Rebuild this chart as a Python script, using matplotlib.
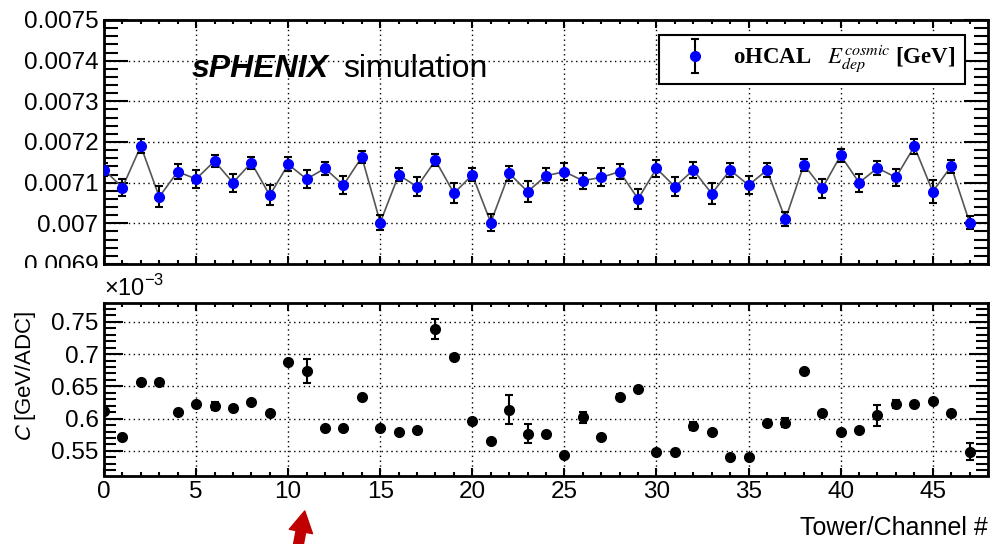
import matplotlib.pyplot as plt
import numpy as np
from matplotlib.ticker import MultipleLocator, FuncFormatter
from matplotlib.patches import Rectangle
from matplotlib.legend_handler import HandlerErrorbar

# channel numbers
channels = np.arange(48)

# oHCAL E_dep (cosmic) per tower [GeV]
e_dep = [0.007132, 0.007088, 0.007190, 0.007065, 0.007127, 0.007109, 0.007153, 0.007100,
         0.007149, 0.007069, 0.007145, 0.007109, 0.007135, 0.007094, 0.007163, 0.007002,
         0.007119, 0.007090, 0.007155, 0.007074, 0.007119, 0.007002, 0.007123, 0.007078,
         0.007117, 0.007127, 0.007105, 0.007113, 0.007127, 0.007060, 0.007135, 0.007090,
         0.007131, 0.007073, 0.007131, 0.007094, 0.007131, 0.007010, 0.007144, 0.007086,
         0.007167, 0.007100, 0.007136, 0.007113, 0.007189, 0.007078, 0.007140, 0.007002]
e_dep_err = np.array([1.6, 2.2, 1.8, 2.6, 1.8, 2.2, 1.5, 2.2, 1.5, 2.5,
                      1.7, 2.2, 1.6, 2.2, 1.4, 1.9, 1.6, 2.3, 1.5, 2.5,
                      1.6, 2.1, 1.8, 2.6, 1.9, 2.1, 2.0, 2.2, 1.8, 2.5,
                      2.0, 2.3, 2.0, 2.5, 1.8, 2.2, 1.8, 1.7, 1.5, 2.4,
                      1.5, 2.2, 1.8, 2.0, 1.8, 2.8, 1.5, 1.7]) * 1e-5

# calibration constant C [x1e-3 GeV/ADC]
calib = [0.612, 0.572, 0.657, 0.656, 0.611, 0.622, 0.619, 0.617, 0.626, 0.608,
         0.688, 0.674, 0.585, 0.585, 0.634, 0.585, 0.580, 0.583, 0.739, 0.696,
         0.597, 0.566, 0.614, 0.577, 0.577, 0.544, 0.602, 0.572, 0.634, 0.646,
         0.549, 0.549, 0.589, 0.580, 0.540, 0.540, 0.594, 0.594, 0.674, 0.608,
         0.580, 0.583, 0.605, 0.623, 0.623, 0.628, 0.608, 0.549]
calib_err = [0.002, 0.002, 0.002, 0.002, 0.002, 0.002, 0.006, 0.002, 0.002, 0.002,
             0.002, 0.019, 0.002, 0.002, 0.002, 0.002, 0.002, 0.002, 0.016, 0.002,
             0.002, 0.002, 0.023, 0.014, 0.002, 0.002, 0.008, 0.002, 0.004, 0.002,
             0.002, 0.002, 0.006, 0.002, 0.002, 0.002, 0.002, 0.007, 0.002, 0.002,
             0.002, 0.002, 0.016, 0.006, 0.002, 0.002, 0.002, 0.013]

plt.rcParams['font.family'] = ['Liberation Sans', 'DejaVu Sans']

W, H = 998, 544
fig = plt.figure(figsize=(W / 100, H / 100), dpi=100)


def box(l, t, r, b):
    return [l / W, 1 - b / H, (r - l) / W, (b - t) / H]


ax1 = fig.add_axes(box(104, 20, 988, 264))
ax2 = fig.add_axes(box(104, 303, 988, 475.5))
ax2.set_zorder(2)


def style(ax, ymaj, ymin, ylen):
    ax.set_xlim(0, 48)
    ax.xaxis.set_major_locator(MultipleLocator(5))
    ax.xaxis.set_minor_locator(MultipleLocator(1))
    ax.yaxis.set_major_locator(MultipleLocator(ymaj))
    ax.yaxis.set_minor_locator(MultipleLocator(ymin))
    ax.tick_params(which='both', direction='in', top=True, right=True, width=1.5,
                   labelsize=17.5, pad=4)
    ax.tick_params(axis='y', which='major', length=ylen)
    ax.tick_params(axis='y', which='minor', length=ylen * 0.6)
    ax.tick_params(axis='x', which='major', length=6)
    ax.tick_params(axis='x', which='minor', length=3)
    ax.grid(True, which='major', color='black', linestyle=(0, (1, 2.5)), linewidth=1)
    for s in ax.spines.values():
        s.set_linewidth(2)


# top: E_dep
style(ax1, 0.0001, 0.00002, 17)
ax1.set_ylim(0.0069, 0.0075)
ax1.yaxis.set_major_formatter(FuncFormatter(lambda v, p: f'{round(v, 7):g}'))
ax1.tick_params(labelbottom=False)
ax1.plot(channels, e_dep, color='#555555', lw=1.2, zorder=2)
eb = ax1.errorbar(channels, e_dep, yerr=e_dep_err, fmt='o', color='blue', ms=7,
                  ecolor='black', elinewidth=1.5, capsize=3, capthick=1.5, zorder=3,
                  label=r'oHCAL   $E^{cosmic}_{dep}$ [GeV]')
leg = ax1.legend(handles=[eb], loc='upper right', bbox_to_anchor=(0.974, 0.9385),
                 prop=dict(family='Liberation Serif', weight='bold', size=16.5),
                 fancybox=False, edgecolor='black', framealpha=1, borderpad=0.4,
                 handlelength=2.3, handletextpad=0.55, borderaxespad=0,
                 handler_map={type(eb): HandlerErrorbar(yerr_size=0.75)})
leg.get_frame().set_linewidth(1.5)
leg.get_texts()[0].set_math_fontfamily('stix')

ax1.text(0.0995, 0.766, 'sPHENIX', transform=ax1.transAxes, fontsize=23,
         fontweight='bold', fontstyle='italic', va='baseline')
ax1.text(0.270, 0.766, 'simulation', transform=ax1.transAxes, fontsize=23,
         va='baseline')

# bottom: calibration constant
style(ax2, 0.05, 0.01, 14)
ax2.set_ylim(0.512, 0.779)
ax2.yaxis.set_major_formatter(FuncFormatter(lambda v, p: f'{round(v, 4):g}'))
ax2.errorbar(channels, calib, yerr=calib_err, fmt='o', color='black', ms=7,
             ecolor='black', elinewidth=1.5, capsize=3, capthick=1.5, zorder=3)
ax2.text(0, 1.015, r'×10$^{\mathregular{-3}}$', transform=ax2.transAxes, fontsize=17,
         va='bottom', ha='left')
ax2.set_xlabel('Tower/Channel #', fontsize=18, loc='right', labelpad=9)
ax2.set_ylabel(r'$C$ [GeV/ADC]', fontsize=16, loc='top', math_fontfamily='stixsans')
ax2.yaxis.set_label_coords(-0.0747, 0.959)

# hide lower part of the top pad's last tick label (pad clipping)
fig.add_artist(Rectangle((0, 1 - 300 / H), 100 / W, 32 / H, transform=fig.transFigure,
                         facecolor='white', edgecolor='none', zorder=1.5))

# red arrow pointing at channel 11
ax2.annotate('', xy=(10.9, 0.0607), xycoords=('data', 'figure fraction'),
             xytext=(10.45, -0.02), textcoords=('data', 'figure fraction'),
             arrowprops=dict(facecolor='#c00000', edgecolor='#c00000', width=7,
                             headwidth=17, headlength=15, shrink=0),
             annotation_clip=False)

fig.savefig('out.png', dpi=100)
